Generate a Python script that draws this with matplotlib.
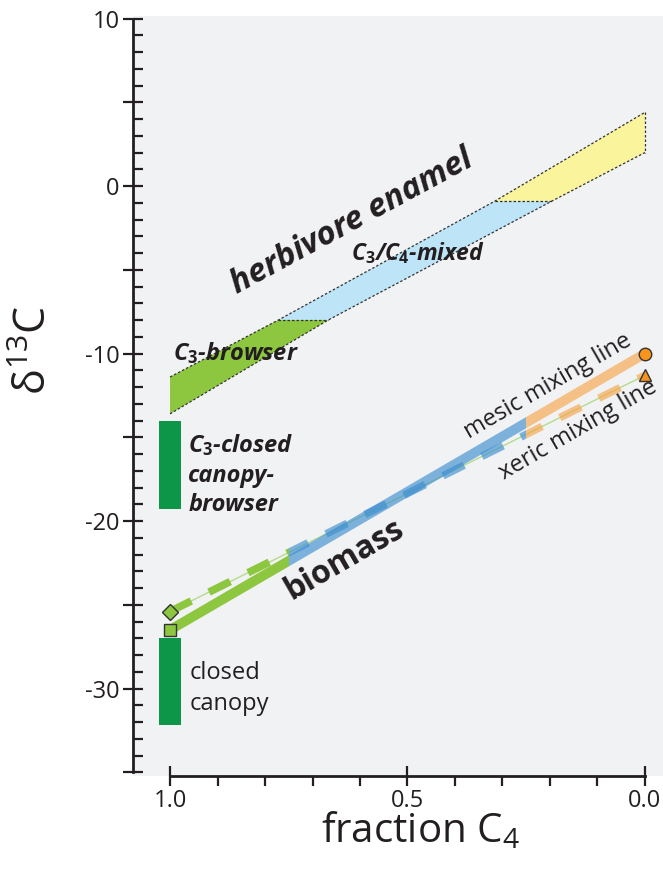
import numpy as np
import matplotlib
matplotlib.use("Agg")
import matplotlib.pyplot as plt
from matplotlib.patches import Polygon, Rectangle
from matplotlib.ticker import FixedLocator, FuncFormatter

fam = 'Open Sans'
plt.rcParams['font.family'] = [fam, 'DejaVu Sans']
plt.rcParams['mathtext.fontset'] = 'custom'
plt.rcParams['mathtext.rm'] = fam
plt.rcParams['mathtext.it'] = fam + ':italic'
plt.rcParams['mathtext.bf'] = fam + ':bold'

####################
# data

# herbivore enamel band (upper / lower edge), break points at -8 and -1 permil
band_frac_upper = [1.0, 0.772, 0.316, 0.0]
band_d13c_upper = [-11.4, -8.0, -0.9, 4.4]
band_frac_lower = [1.0, 0.667, 0.196, 0.0]
band_d13c_lower = [-13.6, -8.0, -0.9, 2.0]
band_colors = ['#8DC63F', '#BDE4F7', '#FAF49D']

# mixing lines (C3 end, C4 end)
mesic_frac = [1.0, 0.0]
mesic_d13c = [-26.5, -10.0]
xeric_frac = [1.0, 0.0]
xeric_d13c = [-25.4, -11.3]
# fraction C4 where the line colour changes
seg_edges = [1.1, 0.75, 0.25, -0.1]
seg_colors = ['#8DC63F', '#3E8FD0', '#F7A54A']
seg_alpha = [1.0, 0.65, 0.65]

# dark green ranges at fraction 1.0
closed_browser = (-19.3, -14.0)
closed_canopy = (-32.2, -27.0)

####################

fig = plt.figure(figsize=(6.63, 8.76), dpi=100)
ax = fig.add_axes([133/663, 1 - 776/876, 530/663, 760/876])
ax.set_facecolor('#F1F2F4')
ax.set_xlim(1.078, -0.038)
ax.set_ylim(-35.22, 10.15)

txt = '#231F20'

# enamel band pieces
for i in range(3):
    pts = [(band_frac_upper[i], band_d13c_upper[i]),
           (band_frac_upper[i+1], band_d13c_upper[i+1]),
           (band_frac_lower[i+1], band_d13c_lower[i+1]),
           (band_frac_lower[i], band_d13c_lower[i])]
    ax.add_patch(Polygon(pts, closed=True, facecolor=band_colors[i],
                         edgecolor='none', zorder=1))

dot = dict(color='#333333', lw=0.9, ls=(0, (2, 1.6)), zorder=2)
ax.plot(band_frac_upper, band_d13c_upper, **dot)
ax.plot(band_frac_lower, band_d13c_lower, **dot)
for i in [1, 2, 3]:
    ax.plot([band_frac_upper[i], band_frac_lower[i]],
            [band_d13c_upper[i], band_d13c_lower[i]], **dot)

# closed canopy bars
ax.bar(1.0, closed_browser[1] - closed_browser[0], bottom=closed_browser[0],
       width=0.048, color='#0D9648', zorder=2)
ax.bar(1.0, closed_canopy[1] - closed_canopy[0], bottom=closed_canopy[0],
       width=0.048, color='#0D9648', zorder=2)

# mixing lines, coloured by fraction C4
ax.plot(xeric_frac, xeric_d13c, color='#B5DB8C', lw=1.0, zorder=3)
for k in range(3):
    clip = Rectangle((seg_edges[k+1], -40), seg_edges[k] - seg_edges[k+1], 60,
                     transform=ax.transData)
    l1, = ax.plot(mesic_frac, mesic_d13c, color=seg_colors[k], alpha=seg_alpha[k],
                  lw=7, solid_capstyle='butt', zorder=3)
    l1.set_clip_path(clip)
    l2, = ax.plot(xeric_frac, xeric_d13c, color=seg_colors[k], alpha=seg_alpha[k],
                  lw=5.5, dashes=(3.1, 2.6), dash_capstyle='butt', zorder=4)
    l2.set_clip_path(clip)

ax.plot(mesic_frac[0], mesic_d13c[0], 's', ms=8, mfc='#8DC63F', mec='#333333', mew=1, zorder=5)
ax.plot(xeric_frac[0], xeric_d13c[0], 'D', ms=8, mfc='#8DC63F', mec='#333333', mew=1, zorder=5)
ax.plot(mesic_frac[1], mesic_d13c[1], 'o', ms=9, mfc='#F7941D', mec='#333333', mew=1, zorder=5)
ax.plot(xeric_frac[1], xeric_d13c[1], '^', ms=9, mfc='#F7941D', mec='#333333', mew=1, zorder=5)

# labels
bi = dict(fontweight='bold', style='italic', color=txt, zorder=6)
ax.text(0.617, -2.15, 'herbivore enamel', rotation=28.5, fontsize=23.5,
        ha='center', va='center', rotation_mode='anchor', **bi)
ax.text(0.478, -4.0, r'C$_\mathbf{3}$/C$_\mathbf{4}$-mixed', fontsize=16.5,
        ha='center', va='center', **bi)
ax.text(0.993, -10.0, r'C$_\mathbf{3}$-browser', fontsize=17,
        ha='left', va='center', **bi)
ax.text(0.962, -17.25, 'C$_\\mathbf{3}$-closed\ncanopy-\nbrowser', fontsize=17,
        ha='left', va='center', linespacing=1.3, **bi)
ax.text(0.958, -30.0, 'closed\ncanopy', fontsize=17, color=txt, ha='left',
        va='center', linespacing=1.35, zorder=6)
ax.text(0.632, -22.3, 'biomass', rotation=30, fontsize=23, fontweight='bold',
        color=txt, ha='center', va='center', rotation_mode='anchor', zorder=6)
ax.text(0.205, -11.95, 'mesic mixing line', rotation=30, fontsize=17, color=txt,
        ha='center', va='center', rotation_mode='anchor', zorder=6)
ax.text(0.141, -14.57, 'xeric mixing line', rotation=30, fontsize=17, color=txt,
        ha='center', va='center', rotation_mode='anchor', zorder=6)

# axes styling
for s in ['top', 'right']:
    ax.spines[s].set_visible(False)
ax.spines['left'].set_bounds(-35, 10)
ax.spines['bottom'].set_bounds(0, 1)
for s in ['left', 'bottom']:
    ax.spines[s].set_linewidth(2)
    ax.spines[s].set_color(txt)

ax.yaxis.set_major_locator(FixedLocator(np.arange(-35, 11, 5)))
ax.yaxis.set_minor_locator(FixedLocator(np.arange(-35, 11, 1)))
ax.yaxis.set_major_formatter(FuncFormatter(lambda v, p: '%d' % v if v % 10 == 0 else ''))
ax.xaxis.set_major_locator(FixedLocator([0.0, 0.5, 1.0]))
ax.xaxis.set_minor_locator(FixedLocator(np.arange(0, 1.01, 0.1)))
ax.xaxis.set_major_formatter(FuncFormatter(lambda v, p: '%.1f' % v))

ax.tick_params(axis='both', which='major', direction='inout', length=15, width=1.6,
               color=txt, labelsize=17, labelcolor=txt, pad=2)
ax.tick_params(axis='y', which='minor', direction='in', length=7, width=1.6, color=txt)
ax.tick_params(axis='x', which='minor', direction='out', length=7, width=1.6, color=txt)

fig.text(35/663, 1 - 350/876, 'δ$^{13}$C', rotation=90, fontsize=31, color=txt,
         ha='center', va='center')
fig.text(420/663, 1 - 832/876, 'fraction C$_4$', fontsize=29, color=txt,
         ha='center', va='center')

plt.savefig('out.png', dpi=100)
